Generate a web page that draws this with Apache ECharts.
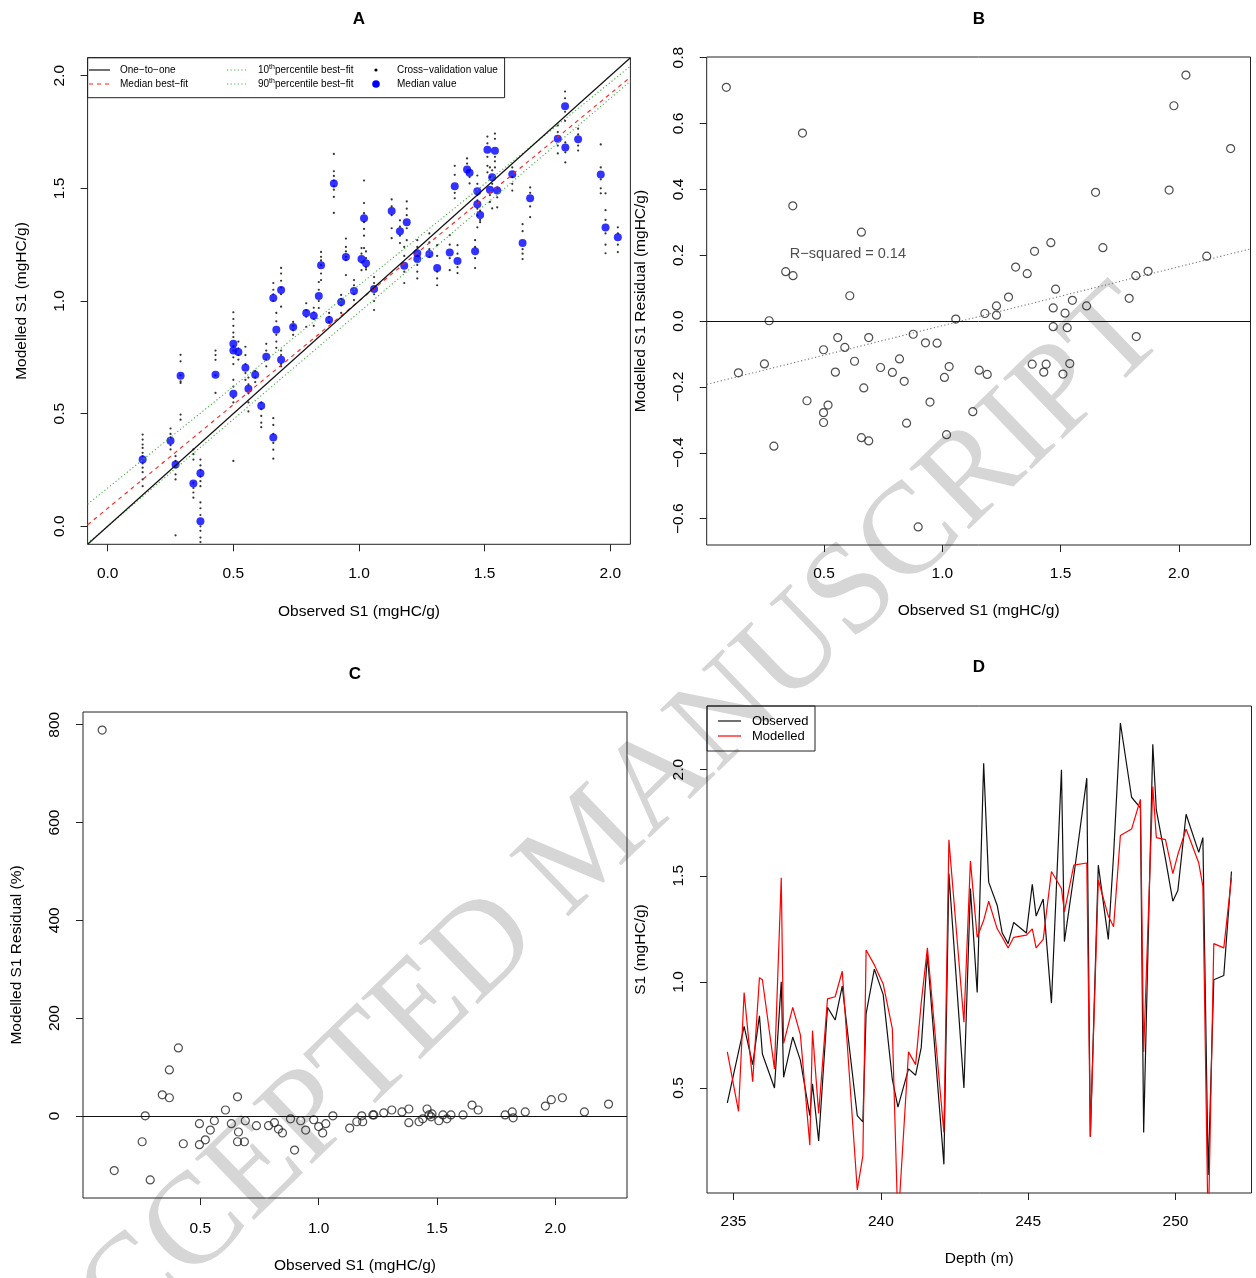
<!DOCTYPE html>
<html>
<head>
<meta charset="utf-8">
<script src="https://cdn.jsdelivr.net/npm/echarts@6/dist/echarts.min.js"></script>
<style>
  html, body { margin: 0; background: #fff; }
  #chart { width: 1256px; height: 1278px; }
</style>
</head>
<body>
<div id="chart"></div>
<script>
// ---- panel A: median modelled vs observed, cross-validation spread ----
const medX = [0.139, 0.25, 0.27, 0.29, 0.341, 0.369, 0.369, 0.429, 0.5, 0.5, 0.52, 0.5, 0.548, 0.56, 0.587, 0.611, 0.631,
  0.659, 0.671, 0.659, 0.69, 0.69, 0.738, 0.79, 0.82, 0.84, 0.849, 0.881, 0.9, 0.929, 0.948, 0.98, 1.01, 1.02, 1.028, 1.06,
  1.13, 1.163, 1.19, 1.18, 1.232, 1.232, 1.28, 1.311, 1.361, 1.392, 1.381, 1.43, 1.44, 1.462, 1.471, 1.471, 1.482, 1.511,
  1.541, 1.521, 1.53, 1.55, 1.61, 1.651, 1.681, 1.791, 1.82, 1.821, 1.872, 1.962, 1.981, 2.03];
const medY = [0.296, 0.38, 0.274, 0.668, 0.19, 0.235, 0.022, 0.673, 0.81, 0.78, 0.774, 0.588, 0.704, 0.61, 0.673, 0.535, 0.752,
  1.013, 0.872, 0.394, 1.049, 0.739, 0.885, 0.947, 0.934, 1.022, 1.159, 0.916, 1.522, 0.996, 1.195, 1.044, 1.186, 1.367, 1.168, 1.053,
  1.40, 1.31, 1.35, 1.156, 1.212, 1.186, 1.209, 1.147, 1.215, 1.178, 1.509, 1.584, 1.569, 1.221, 1.487, 1.429, 1.382, 1.671,
  1.667, 1.494, 1.549, 1.49, 1.563, 1.258, 1.456, 1.72, 1.864, 1.681, 1.718, 1.562, 1.326, 1.283];
const cvY = [
  [0.407, 0.385, 0.363, 0.348, 0.326, 0.311, 0.279, 0.26, 0.24, 0.208, 0.178], [0.434, 0.41, 0.395, 0.36, 0.341],
  [0.311, 0.29, 0.26, 0.23, 0.208, -0.04], [0.761, 0.732, 0.67, 0.643, 0.636, 0.496, 0.473],
  [0.341, 0.32, 0.296, 0.193, 0.17, 0.15, 0.127], [0.296, 0.27, 0.25, 0.22, 0.2, 0.178],
  [0.106, 0.08, 0.05, 0.0, -0.02, -0.05, -0.07], [0.78, 0.76, 0.739, 0.67, 0.592],
  [0.95, 0.92, 0.89, 0.86, 0.84, 0.29], [0.8, 0.78, 0.75, 0.72], [0.82, 0.79, 0.76, 0.74], [0.65, 0.62, 0.57, 0.55],
  [0.797, 0.76, 0.72, 0.68, 0.65], [0.66, 0.63, 0.59, 0.55, 0.51], [0.69, 0.66, 0.64], [0.55, 0.52, 0.49, 0.46, 0.44],
  [0.81, 0.78, 0.74, 0.71], [1.08, 1.05, 1.03, 1.0], [0.947, 0.91, 0.85, 0.82, 0.792], [0.48, 0.45, 0.41, 0.37, 0.34, 0.3],
  [1.147, 1.122, 1.09, 1.06, 1.03, 0.975], [0.78, 0.76, 0.72, 0.71], [0.907, 0.89, 0.87, 0.85], [0.99, 0.96, 0.93, 0.885],
  [0.97, 0.95, 0.92, 0.89], [1.084, 1.05, 1.0, 0.969], [1.218, 1.196, 1.18, 1.159, 1.122, 1.093], [0.947, 0.93, 0.907],
  [1.653, 1.576, 1.555, 1.535, 1.509, 1.494, 1.462, 1.391], [1.027, 1.01, 0.98, 0.947], [1.277, 1.24, 1.22, 1.196, 1.181, 1.115],
  [1.093, 1.07, 1.03, 1.004], [1.235, 1.21, 1.17, 1.137], [1.535, 1.435, 1.39, 1.35, 1.32, 1.29, 1.235], [1.22, 1.19, 1.15, 1.14],
  [1.106, 1.08, 1.03, 1.0, 0.96], [1.451, 1.42, 1.381, 1.323, 1.279], [1.358, 1.33, 1.29, 1.257], [1.442, 1.41, 1.381, 1.323, 1.27],
  [1.24, 1.2, 1.13, 1.08], [1.27, 1.24, 1.2], [1.16, 1.13, 1.10], [1.30, 1.26, 1.23, 1.195], [1.248, 1.2, 1.13, 1.1, 1.07],
  [1.292, 1.25, 1.19, 1.137], [1.248, 1.21, 1.15, 1.124], [1.60, 1.56, 1.48, 1.456], [1.633, 1.61, 1.57], [1.55, 1.522],
  [1.27, 1.24, 1.19, 1.146], [1.557, 1.52, 1.47, 1.447], [1.41, 1.38, 1.327], [1.40, 1.36, 1.35], [1.73, 1.70, 1.64, 1.60, 1.571],
  [1.743, 1.72, 1.64, 1.62, 1.593], [1.593, 1.55, 1.47, 1.44], [1.58, 1.52, 1.411], [1.504, 1.46, 1.416], [1.593, 1.55, 1.52, 1.49],
  [1.341, 1.31, 1.23, 1.21, 1.186], [1.504, 1.48, 1.42, 1.372], [1.779, 1.75, 1.69, 1.655], [1.93, 1.9, 1.84, 1.80],
  [1.704, 1.66, 1.615], [1.765, 1.74, 1.69, 1.668], [1.695, 1.593, 1.54, 1.5, 1.478], [1.478, 1.403, 1.36, 1.3, 1.25, 1.212],
  [1.327, 1.3, 1.25, 1.217]
];
// [intercept, slope]
const oneToOne = [0, 1];
const medianFit = [0.08, 0.92];
const p10Fit = [0.17, 0.90];
const p90Fit = [0.0, 0.95];

// ---- panel B: residual (mgHC/g) ----
const resX = [0.087, 0.409, 0.368, 0.658, 0.338, 0.369, 0.609, 2.03, 1.979, 2.219, 1.648, 1.959, 1.459, 1.39, 1.679, 1.31, 1.359,
  2.118, 1.818, 1.87, 1.479, 1.28, 1.55, 1.79, 0.268, 1.057, 0.558, 0.689, 0.877, 0.498, 0.588, 0.929, 0.978, 0.138, 0.248, 0.629,
  0.548, 0.739, 0.819, 0.789, 0.839, 1.029, 1.009, 1.156, 0.668, 0.428, 0.517, 0.498, 0.498, 0.948, 1.129, 0.849, 0.658, 0.689,
  1.018, 0.288, 0.898, 1.229, 1.18, 1.229, 1.469, 1.519, 1.61, 1.469, 1.528, 1.82, 1.38, 1.439, 1.429, 1.539, 1.51, 1.19];
const resY = [0.71, 0.571, 0.35, 0.27, 0.15, 0.138, 0.077, 0.747, 0.654, 0.524, 0.391, 0.398, 0.238, 0.212, 0.223, 0.164, 0.144,
  0.197, 0.138, 0.151, 0.097, 0.073, 0.063, 0.069, 0.001, 0.006, -0.05, -0.05, -0.04, -0.087, -0.08, -0.066, -0.067, -0.157, -0.13, -0.122,
  -0.155, -0.141, -0.115, -0.156, -0.183, -0.138, -0.171, -0.149, -0.203, -0.242, -0.255, -0.278, -0.308, -0.246, -0.275, -0.31, -0.354, -0.364,
  -0.345, -0.38, -0.625, 0.046, 0.023, 0.018, 0.04, 0.024, 0.046, -0.017, -0.02, -0.047, -0.131, -0.131, -0.155, -0.129, -0.161, -0.162];
const resFit = [-0.193, 0.179];
const rSquaredAt = [0.601, 0.203];

// ---- panel C: residual (%) ----
const pctX = [0.085, 0.136, 0.254, 0.267, 0.288, 0.339, 0.369, 0.369, 0.407, 0.428, 0.496, 0.496, 0.521, 0.542, 0.559, 0.606, 0.631,
  0.657, 0.661, 0.657, 0.686, 0.69, 0.737, 0.788, 0.813, 0.83, 0.847, 0.881, 0.898, 0.924, 0.945, 0.979, 1.0, 1.017, 1.03, 1.06,
  1.131, 1.161, 1.182, 1.186, 1.229, 1.233, 1.275, 1.309, 1.352, 1.381, 1.381, 1.424, 1.44, 1.458, 1.466, 1.479, 1.475, 1.508,
  1.525, 1.542, 1.559, 1.61, 1.648, 1.674, 1.788, 1.818, 1.822, 1.873, 1.958, 1.983, 2.03, 2.123, 2.225];
const pctY = [789, -112, -53, 0, -131, 43, 94, 37, 139, -57, -16, -59, -49, -29, -10, 12, -16, 39, -33, -53, -53, -10, -20, -20, -14,
  -27, -35, -6, -70, -10, -29, -8, -22, -35, -16, 0, -25, -12, 0, -12, 2, 2, 6, 12, 8, 14, -14, -12, -6, 14, 2, 4, -2, -10, 2, -6, 2, 2,
  22, 12, 2, 8, -4, 8, 20, 33, 37, 8, 24];

// ---- panel D: S1 with depth ----
const depth = [234.79, 235.17, 235.36, 235.65, 235.88, 235.98, 236.39, 236.62, 236.70, 237.01, 237.27, 237.59, 237.68, 237.89,
  238.19, 238.45, 238.69, 239.20, 239.39, 239.50, 239.78, 240.08, 240.39, 240.58, 240.94, 241.18, 241.37, 241.58, 242.14, 242.31,
  242.82, 243.04, 243.27, 243.49, 243.66, 243.95, 244.12, 244.32, 244.51, 244.94, 245.14, 245.27, 245.51, 245.79, 246.13, 246.23,
  246.55, 246.99, 247.11, 247.38, 247.72, 247.90, 248.13, 248.51, 248.81, 248.92, 249.23, 249.35, 249.66, 249.91, 250.08, 250.36,
  250.79, 250.93, 251.11, 251.30, 251.64, 251.90];
const observed = [0.43, 0.67, 0.79, 0.61, 0.84, 0.66, 0.50, 1.0, 0.55, 0.74, 0.63, 0.37, 0.52, 0.25, 0.88, 0.82, 0.98, 0.37, 0.34,
  0.85, 1.06, 0.94, 0.54, 0.41, 0.59, 0.56, 0.69, 1.13, 0.14, 1.51, 0.50, 1.44, 0.95, 2.03, 1.47, 1.36, 1.23, 1.18, 1.28, 1.23, 1.46,
  1.31, 1.39, 0.90, 2.00, 1.19, 1.50, 1.96, 0.27, 1.55, 1.20, 1.60, 2.22, 1.87, 1.82, 0.29, 2.12, 1.81, 1.58, 1.38, 1.43, 1.79, 1.61,
  1.68, 0.09, 1.01, 1.03, 1.52];
const modelled = [0.67, 0.39, 0.95, 0.53, 1.02, 1.01, 0.59, 1.49, 0.71, 0.88, 0.75, 0.23, 0.77, 0.38, 0.92, 0.93, 1.05, 0.02, 0.18,
  1.15, 1.08, 0.99, 0.78, -0.15, 0.67, 0.61, 0.90, 1.16, 0.29, 1.67, 0.81, 1.57, 1.21, 1.29, 1.38, 1.25, 1.21, 1.16, 1.21, 1.22, 1.25,
  1.16, 1.20, 1.52, 1.44, 1.33, 1.55, 1.56, 0.27, 1.48, 1.31, 1.26, 1.69, 1.72, 1.86, 0.67, 1.92, 1.68, 1.67, 1.51, 1.60, 1.72, 1.56,
  1.45, -0.2, 1.18, 1.16, 1.49];

const FONT = '"Liberation Sans", Arial, Helvetica, sans-serif';
const MINUS = '\u2212';

const rangeA = [-0.08, 2.08];
const rangeBx = [0.004, 2.303];

const fmt1 = v => v.toFixed(1);
const fmtSigned = v => (v < -1e-9 ? MINUS : '') + Math.abs(v).toFixed(1);
const fmtInt = v => String(Math.round(v));

function axis(gridIndex, range, ticks, name, margin, nameGap, fmt, vertical) {
  return {
    type: 'value', gridIndex, min: range[0], max: range[1],
    name, nameLocation: 'middle', nameGap,
    nameTextStyle: { fontSize: 15.5, color: '#000', fontFamily: FONT },
    axisLine: { show: false, onZero: false },
    axisTick: { show: true, length: 7, customValues: ticks, lineStyle: { color: '#222', width: 1 } },
    axisLabel: { customValues: ticks, margin, rotate: vertical ? 90 : 0, fontSize: 15.5, color: '#000',
      fontFamily: FONT, formatter: fmt },
    splitLine: { show: false }
  };
}

const abline = (coef, xr) => xr.map(x => [x, coef[0] + coef[1] * x]);
const zeroLine = {
  silent: true, symbol: ['none', 'none'], label: { show: false },
  lineStyle: { color: '#111', type: 'solid', width: 1 }, data: [{ yAxis: 0 }]
};
const openCircle = { color: 'rgba(0,0,0,0)', borderColor: '#222', borderWidth: 1.2 };

const chart = echarts.init(document.getElementById('chart'));

const option = {
  animation: false,
  backgroundColor: '#fff',
  grid: [
    { left: 87.6, top: 57.7, width: 542.8, height: 486.6 },
    { left: 706.7, top: 57, width: 543.8, height: 488 },
    { left: 83, top: 712, width: 544, height: 486 },
    { left: 707, top: 706, width: 544.5, height: 487 }
  ].map(g => Object.assign({ show: true, borderColor: '#222', borderWidth: 1, backgroundColor: 'transparent' }, g)),
  xAxis: [
    axis(0, rangeA, [0, 0.5, 1, 1.5, 2], 'Observed S1 (mgHC/g)', 21, 59, fmt1, false),
    axis(1, rangeBx, [0.5, 1, 1.5, 2], 'Observed S1 (mgHC/g)', 21, 58, fmt1, false),
    axis(2, rangeBx, [0.5, 1, 1.5, 2], 'Observed S1 (mgHC/g)', 23, 60, fmt1, false),
    axis(3, [234.1, 252.58], [235, 240, 245, 250], 'Depth (m)', 21, 58, fmtInt, false)
  ],
  yAxis: [
    axis(0, rangeA, [0, 0.5, 1, 1.5, 2], 'Modelled S1 (mgHC/g)', 20, 58, fmt1, true),
    axis(1, [-0.68, 0.802], [-0.6, -0.4, -0.2, 0, 0.2, 0.4, 0.6, 0.8], 'Modelled S1 Residual (mgHC/g)', 20, 58, fmtSigned, true),
    axis(2, [-168, 826], [0, 200, 400, 600, 800], 'Modelled S1 Residual (%)', 20, 58, fmtInt, true),
    axis(3, [0.005, 2.30], [0.5, 1, 1.5, 2], 'S1 (mgHC/g)', 20, 58, fmt1, true)
  ],
  series: [
    {
      type: 'scatter', xAxisIndex: 0, yAxisIndex: 0, z: 3, silent: true,
      data: medX.flatMap((x, i) => cvY[i].map(y => [x, y])),
      symbolSize: 2.2, itemStyle: { color: '#000' }
    },
    {
      type: 'scatter', xAxisIndex: 0, yAxisIndex: 0, z: 4, silent: true,
      data: medX.map((x, i) => [x, medY[i]]),
      symbolSize: 8, itemStyle: { color: '#0000ff' }
    },
    { type: 'line', xAxisIndex: 0, yAxisIndex: 0, z: 5, showSymbol: false, silent: true, data: abline(p10Fit, rangeA),
      lineStyle: { color: '#44b044', width: 1.1, type: [1.2, 2.4] } },
    { type: 'line', xAxisIndex: 0, yAxisIndex: 0, z: 5, showSymbol: false, silent: true, data: abline(p90Fit, rangeA),
      lineStyle: { color: '#44b044', width: 1.1, type: [1.2, 2.4] } },
    { type: 'line', xAxisIndex: 0, yAxisIndex: 0, z: 5, showSymbol: false, silent: true, data: abline(medianFit, rangeA),
      lineStyle: { color: '#ff2020', width: 1.1, type: [4, 4] } },
    { type: 'line', xAxisIndex: 0, yAxisIndex: 0, z: 6, showSymbol: false, silent: true, data: abline(oneToOne, rangeA),
      lineStyle: { color: '#111', width: 1.2 } },

    {
      type: 'scatter', xAxisIndex: 1, yAxisIndex: 1, z: 4, silent: true,
      data: resX.map((x, i) => [x, resY[i]]),
      symbolSize: 8, itemStyle: openCircle, markLine: zeroLine
    },
    { type: 'line', xAxisIndex: 1, yAxisIndex: 1, z: 3, showSymbol: false, silent: true, data: abline(resFit, rangeBx),
      lineStyle: { color: '#777', width: 1.1, type: [1.2, 2.4] } },
    {
      type: 'scatter', xAxisIndex: 1, yAxisIndex: 1, z: 5, silent: true, data: [rSquaredAt], symbolSize: 0,
      label: { show: true, position: 'inside', formatter: 'R' + MINUS + 'squared = 0.14', color: '#222', fontSize: 14.5, fontFamily: FONT }
    },

    {
      type: 'scatter', xAxisIndex: 2, yAxisIndex: 2, z: 4, silent: true,
      data: pctX.map((x, i) => [x, pctY[i]]),
      symbolSize: 8, itemStyle: openCircle, markLine: zeroLine
    },

    { type: 'line', name: 'Observed', xAxisIndex: 3, yAxisIndex: 3, z: 4, showSymbol: false, silent: true, clip: true,
      data: depth.map((d, i) => [d, observed[i]]), lineStyle: { color: '#111', width: 1.2 } },
    { type: 'line', name: 'Modelled', xAxisIndex: 3, yAxisIndex: 3, z: 5, showSymbol: false, silent: true, clip: true,
      data: depth.map((d, i) => [d, modelled[i]]), lineStyle: { color: '#ff0000', width: 1.2 } }
  ],
  graphic: [
    // watermark
    { type: 'text', x: 590, y: 848, rotation: 44 * Math.PI / 180, z: -10, silent: true,
      style: { text: 'ACCEPTED MANUSCRIPT', fontSize: 130, fontFamily: '"Liberation Serif", "DejaVu Serif", serif',
        fill: '#d6d6d6', align: 'center', verticalAlign: 'middle' } },
    // panel titles
    ...[['A', 359, 19], ['B', 979, 19], ['C', 355, 674], ['D', 979, 667]].map(([t, x, y]) => ({
      type: 'text', x, y, silent: true,
      style: { text: t, fontSize: 17, fontWeight: 'bold', fontFamily: FONT, fill: '#000', align: 'center', verticalAlign: 'middle' }
    })),
    // legend A
    { type: 'rect', silent: true, shape: { x: 87.6, y: 57.7, width: 417, height: 40 },
      style: { fill: 'rgba(0,0,0,0)', stroke: '#222', lineWidth: 1 } },
    { type: 'line', silent: true, shape: { x1: 89, y1: 70, x2: 110, y2: 70 }, style: { stroke: '#111', lineWidth: 1.2 } },
    { type: 'line', silent: true, shape: { x1: 89, y1: 84, x2: 110, y2: 84 }, style: { stroke: '#ff2020', lineWidth: 1.1, lineDash: [4, 4] } },
    { type: 'line', silent: true, shape: { x1: 227, y1: 70, x2: 248, y2: 70 }, style: { stroke: '#44b044', lineWidth: 1.1, lineDash: [1.2, 2.4] } },
    { type: 'line', silent: true, shape: { x1: 227, y1: 84, x2: 248, y2: 84 }, style: { stroke: '#44b044', lineWidth: 1.1, lineDash: [1.2, 2.4] } },
    { type: 'circle', silent: true, shape: { cx: 376, cy: 70, r: 1.6 }, style: { fill: '#000' } },
    { type: 'circle', silent: true, shape: { cx: 376, cy: 84, r: 3.8 }, style: { fill: '#0000ff' } },
    ...[
      ['One' + MINUS + 'to' + MINUS + 'one', 120, 70], ['Median best' + MINUS + 'fit', 120, 84],
      ['10{sup|th}percentile best' + MINUS + 'fit', 258, 70], ['90{sup|th}percentile best' + MINUS + 'fit', 258, 84],
      ['Cross' + MINUS + 'validation value', 397, 70], ['Median value', 397, 84]
    ].map(([t, x, y]) => ({
      type: 'text', x, y, silent: true,
      style: { text: t, fontSize: 10, fontFamily: FONT, fill: '#000', align: 'left', verticalAlign: 'middle', lineHeight: 13,
        rich: { sup: { fontSize: 7, fontFamily: FONT, verticalAlign: 'top', lineHeight: 8 } } }
    })),
    // legend D
    { type: 'rect', silent: true, shape: { x: 707, y: 706, width: 108, height: 45 },
      style: { fill: 'rgba(0,0,0,0)', stroke: '#222', lineWidth: 1 } },
    { type: 'line', silent: true, shape: { x1: 718, y1: 721, x2: 741, y2: 721 }, style: { stroke: '#111', lineWidth: 1.2 } },
    { type: 'line', silent: true, shape: { x1: 718, y1: 736, x2: 741, y2: 736 }, style: { stroke: '#ff0000', lineWidth: 1.2 } },
    { type: 'text', x: 752, y: 721, silent: true,
      style: { text: 'Observed', fontSize: 13, fontFamily: FONT, fill: '#000', align: 'left', verticalAlign: 'middle' } },
    { type: 'text', x: 752, y: 736, silent: true,
      style: { text: 'Modelled', fontSize: 13, fontFamily: FONT, fill: '#000', align: 'left', verticalAlign: 'middle' } }
  ]
};

chart.setOption(option);
</script>
</body>
</html>
